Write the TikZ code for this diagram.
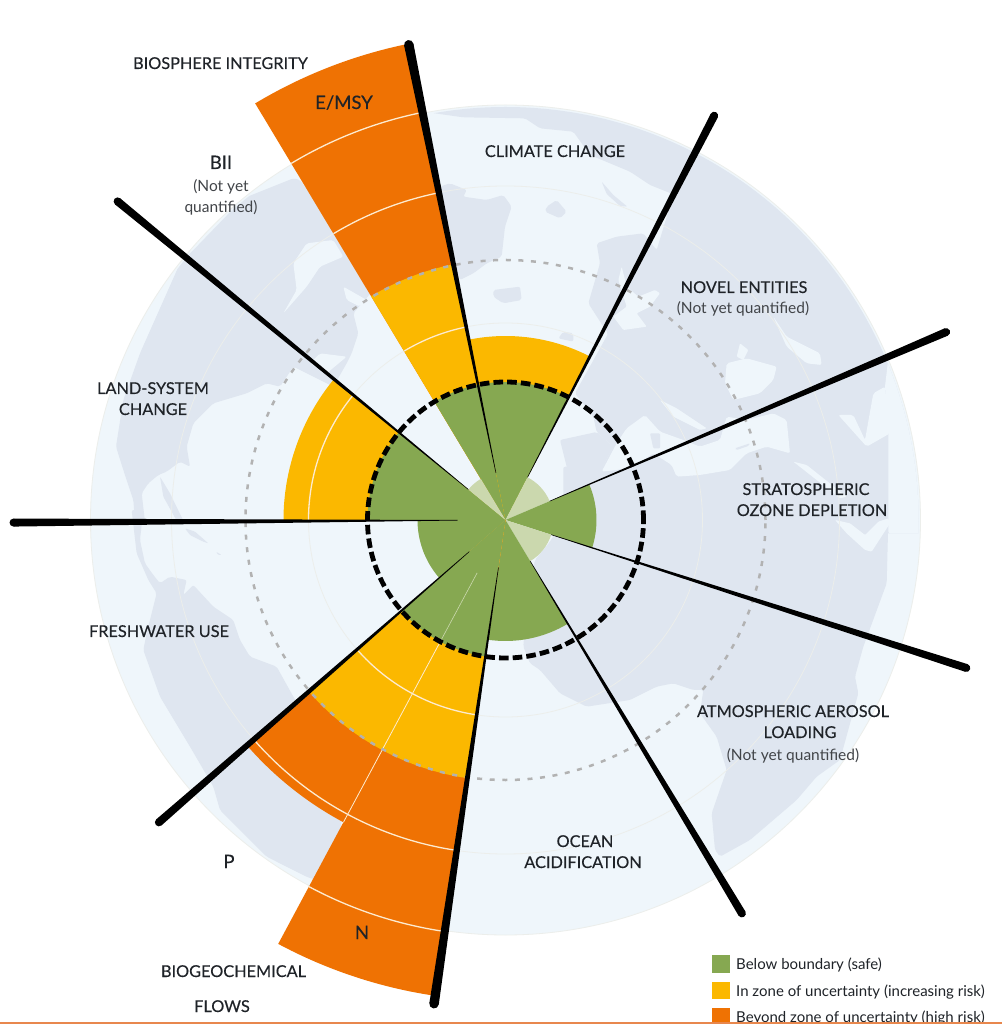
\documentclass[tikz,border=0pt]{standalone}
\usepackage{fontspec}
\setmainfont{Lato}
\newfontfamily\labfont[FakeBold=0.3]{Lato}
\definecolor{ocean}{HTML}{EFF6FB}
\definecolor{landc}{HTML}{DFE6F0}
\definecolor{orng}{HTML}{EF7203}
\definecolor{yell}{HTML}{FBB800}
\definecolor{grn}{HTML}{86A851}
\definecolor{pale}{HTML}{CBD8AE}
\definecolor{inkc}{HTML}{1F2328}
\definecolor{gridc}{HTML}{ECEEEB}
\definecolor{arcc}{HTML}{FDEBD0}
\definecolor{stripc}{HTML}{E8874D}
\newcommand{\wedgeat}[4]{\fill[#1] (0,0) -- (#2:#4) arc[start angle=#2,end angle=#3,radius=#4] -- cycle;}
\newcommand{\whitearc}[3]{\draw[arcstyle] (#1:#3) arc[start angle=#1,end angle=#2,radius=#3];}
\newcommand{\rayat}[3]{\fill[black,rotate=#1,rounded corners=0pt] (48,-.25) -- (#2,-#3/2) -- (#2,#3/2) -- (48,.25) -- cycle; \fill[black,rotate=#1] (#2,0) circle[radius=#3/2];}
\newcommand{\lab}[5]{\node[#1] (#2) at (#3,#4) {#5};}
\tikzset{
  arcstyle/.style={draw=arcc,line width=1.3pt},
  px/.style={x=1pt,y=-1pt,shift={(-505.5pt,520pt)}},
  zf/.style 2 args={x=0.33333pt,y=-0.33333pt,shift={(#1pt,#2pt)}},
  landfill/.style={fill=landc,rounded corners=2pt},
  seafill/.style={fill=ocean,rounded corners=2pt},
  capt/.style={anchor=base,inner sep=0pt,text=inkc,font=\labfont\fontsize{16.3}{18}\selectfont},
  bigt/.style={anchor=base,inner sep=0pt,text=inkc,font=\labfont\fontsize{18.5}{20}\selectfont},
  smallt/.style={anchor=base,inner sep=0pt,text=inkc!85,font=\fontsize{15.5}{16}\selectfont},
  legt/.style={anchor=base west,inner sep=0pt,text=inkc,font=\fontsize{15}{16}\selectfont},
}
\begin{document}
\begin{tikzpicture}[x=1pt,y=1pt]
\useasboundingbox (-505.5,-504) rectangle (496.5,520);
\fill[white] (-505.5,-504) rectangle (496.5,520);
% globe
\fill[ocean] (0,0) circle[radius=415];
\draw[gridc,line width=.8pt] (0,0) circle[radius=415];
\begin{scope}
\clip (0,0) circle[radius=413];
% Arctic Russia
\begin{scope}[zf={-75.5}{420}]
\fill[landfill] (0,38) -- (0,-50) -- (800,-50) -- (800,290) -- (735,285) -- (660,255) -- (600,215) -- (480,165) -- (430,95) -- (330,85) -- (285,55) -- (100,52) -- cycle;
% Greenland, Iceland, Svalbard, Novaya Zemlya, Britain
\fill[landfill] (30,260) -- (60,250) -- (110,270) -- (100,290) -- (170,300) -- (220,285) -- (245,320) -- (225,380) -- (215,470) -- (170,490) -- (130,520) -- (90,540) -- (50,440) -- cycle;
\fill[landfill] (190,570) -- (270,560) -- (275,600) -- (220,610) -- (190,590) -- cycle;
\fill[landfill] (350,320) -- (380,300) -- (410,335) -- (390,355) -- (345,335) -- cycle;
\fill[landfill,rounded corners=1pt] (515,245) -- (550,285) -- (592,320) -- (570,318) -- (530,282) -- cycle;
\fill[landfill] (385,715) -- (400,695) -- (430,700) -- (430,725) -- cycle;
\end{scope}
% Eurasia
\begin{scope}[zf={54.5}{420}]
\fill[landfill] (340,285) -- (500,-100) -- (1400,-100) -- (1400,1300) -- (110,1300) -- (100,1170) -- (120,1115) -- (160,1040) -- (110,996) -- (100,950) -- (45,880) -- (145,700) -- (130,680) -- (85,610) -- (120,490) -- (110,430) -- (170,410) -- (250,400) -- (290,450) -- cycle;
\fill[landfill] (160,1040) -- (110,996) -- (0,1020) -- (20,1100) -- (30,1140) -- (90,1150) -- (120,1115) -- cycle;
\end{scope}
% Africa
\begin{scope}[zf={24.5}{20}]
\fill[landfill] (1100,-100) -- (1075,60) -- (1070,250) -- (1000,440) -- (975,530) -- (985,580) -- (930,780) -- (860,830) -- (800,900) -- (660,1020) -- (570,1070) -- (555,1050) -- (545,940) -- (590,810) -- (560,710) -- (510,640) -- (520,570) -- (490,570) -- (430,550) -- (380,560) -- (300,600) -- (170,620) -- (90,580) -- (30,510) -- (0,490) -- (-20,440) -- (-10,300) -- (15,180) -- (60,125) -- (100,60) -- (100,-100) -- cycle;
\end{scope}
% North America
\begin{scope}[zf={-425.5}{420}]
\fill[landfill] (640,235) -- (490,295) -- (350,440) -- (300,490) -- (180,760) -- (130,900) -- (108,1040) -- (130,1110) -- (160,1200) -- (165,1265) -- (195,1265) -- (185,1180) -- (205,1150) -- (235,1125) -- (260,1115) -- (300,1085) -- (330,1100) -- (320,1040) -- (340,970) -- (400,910) -- (500,880) -- (560,850) -- (600,860) -- (640,800) -- (700,830) -- (760,860) -- (800,790) -- (815,760) -- (835,700) -- (820,640) -- (845,610) -- (890,560) -- (660,240) -- cycle;
\fill[landfill,rounded corners=1pt] (240,1130) -- (270,1180) -- (310,1262) -- (290,1262) -- (250,1190) -- cycle;
\fill[seafill] (640,490) -- (680,430) -- (760,420) -- (790,470) -- (720,500) -- (680,560) -- (610,640) -- (650,570) -- cycle;
\fill[seafill] (690,790) -- (720,760) -- (800,770) -- (740,820) -- cycle;
\fill[seafill] (790,560) -- (860,600) -- (840,620) -- (800,600) -- cycle;
\end{scope}
% Central and South America
\begin{scope}[zf={-425.5}{0}]
\fill[landfill] (190,-30) -- (180,60) -- (195,130) -- (220,165) -- (240,190) -- (270,170) -- (320,180) -- (310,225) -- (340,195) -- (400,260) -- (460,300) -- (480,360) -- (510,410) -- (590,440) -- (640,530) -- (800,800) -- (770,1000) -- (770,1100) -- (681,1071) -- (560,1010) -- (420,870) -- (400,800) -- (330,680) -- (240,530) -- (190,390) -- (200,340) -- (230,220) -- (205,180) -- (170,100) -- (155,-30) -- cycle;
\fill[landfill,rounded corners=1pt] (315,25) -- (345,35) -- (385,70) -- (370,65) -- (330,45) -- cycle;
\fill[landfill,rounded corners=1pt] (408,95) -- (425,105) -- (415,105) -- cycle;
\end{scope}
% inland seas and east rim
\begin{scope}[zf={54.5}{420}]
\fill[seafill] (985,775) -- (975,860) -- (985,1000) -- (985,1300) -- (1400,1300) -- (1400,700) -- cycle;
\fill[seafill] (125,1115) -- (170,1030) -- (200,985) -- (255,945) -- (300,995) -- (370,1020) -- (420,1040) -- (480,1020) -- (500,950) -- (560,960) -- (640,940) -- (680,960) -- (690,1060) -- (620,1040) -- (560,1060) -- (510,1110) -- (420,1125) -- (350,1130) -- (335,1095) -- (280,1060) -- (220,1100) -- (170,1110) -- cycle;
\fill[landfill,rounded corners=1pt] (270,1000) -- (300,1000) -- (300,1045) -- (280,1045) -- cycle;
\fill[landfill,rounded corners=1pt] (525,1045) -- (570,1030) -- (565,1038) -- (530,1050) -- cycle;
\fill[seafill,rounded corners=1pt] (300,900) -- (350,925) -- (440,985) -- (420,990) -- (340,950) -- cycle;
\fill[seafill] (500,790) -- (560,775) -- (650,800) -- (640,840) -- (600,880) -- (520,900) -- (495,850) -- cycle;
\fill[seafill,rounded corners=1pt] (540,730) -- (565,750) -- (550,780) -- (530,770) -- cycle;
\fill[seafill] (640,650) -- (680,710) -- (780,760) -- (785,795) -- (740,790) -- (680,740) -- cycle;
\fill[seafill] (835,945) -- (880,945) -- (915,1020) -- (940,880) -- (975,860) -- (985,960) -- (990,1000) -- (920,1040) -- cycle;
\fill[seafill,rounded corners=1pt] (185,500) -- (200,560) -- (235,590) -- (285,570) -- (300,580) -- (270,620) -- (230,640) -- (260,680) -- (190,690) -- (160,650) -- (200,620) -- (175,540) -- cycle;
\fill[seafill,rounded corners=1pt] (700,1085) -- (740,1095) -- (860,1190) -- (840,1195) -- cycle;
\end{scope}
\begin{scope}[zf={24.5}{20}]
\fill[seafill,rounded corners=1pt] (915,60) -- (960,70) -- (1005,105) -- (1045,65) -- (1075,55) -- (1080,70) -- (1025,155) -- (1005,150) -- (950,100) -- cycle;
\end{scope}
\end{scope}
% faint grid rings
\draw[gridc,line width=.8pt] (0,0) circle[radius=197];
\draw[gridc,line width=.8pt] (0,0) circle[radius=334];
% boundaries: orange, yellow, green
\wedgeat{orng}{101.5}{121}{486}
\wedgeat{yell}{101.5}{121}{261}
\wedgeat{grn}{101.5}{121}{138}
\wedgeat{yell}{62.7}{101.5}{184}
\wedgeat{grn}{62.7}{101.5}{138}
\wedgeat{pale}{23.1}{62.7}{48}
\wedgeat{grn}{-17.8}{23.1}{91}
\wedgeat{pale}{-59}{-17.8}{48}
\wedgeat{grn}{-98.4}{-59}{121}
\wedgeat{orng}{241.8}{261.6}{481}
\wedgeat{orng}{221.1}{241.8}{343}
\wedgeat{yell}{221.1}{261.6}{261}
\wedgeat{grn}{221.1}{261.6}{138}
\wedgeat{grn}{180}{221.1}{88}
\wedgeat{yell}{140.6}{180}{222}
\wedgeat{grn}{140.6}{180}{138}
\wedgeat{pale}{121}{140.6}{48}
% arcs inside wedges
\whitearc{101.5}{121}{197}
\whitearc{101.5}{121}{334}
\whitearc{101.5}{121}{416}
\whitearc{140.6}{180}{197}
\whitearc{221.1}{261.6}{197}
\whitearc{221.1}{261.6}{334}
\whitearc{241.8}{261.6}{416}
\draw[draw=pale,line width=.6pt] (241.8:60) -- (241.8:138);
\draw[draw=arcc,line width=.8pt] (241.8:138) -- (241.8:343);
% dashed rings
\draw[black!30,line width=2.5pt,dash pattern=on 5pt off 7.6pt] (0,0) circle[radius=260];
\draw[black,line width=4.8pt,dash pattern=on 9.6pt off 4.1pt] (0,0) circle[radius=138];
% rays
\rayat{101.5}{485}{9.5}
\rayat{62.7}{455}{8}
\rayat{23.1}{479}{8}
\rayat{-17.8}{484}{8}
\rayat{-59}{459}{8}
\rayat{261.6}{489}{9.5}
\rayat{221.1}{460}{8}
\rayat{180.3}{492}{8}
\rayat{140.6}{502}{8}
% labels and legend, in picture pixels
\begin{scope}[px]
\lab{capt}{bio}{220.5}{69}{BIOSPHERE INTEGRITY}
\lab{bigt}{emsy}{344}{109}{E/MSY}
\lab{bigt}{bii}{221}{169}{BII}
\lab{smallt}{biiA}{221}{192}{(Not yet}
\lab{smallt}{biiB}{221}{213}{quantified)}
\lab{capt}{clim}{555}{157}{CLIMATE CHANGE}
\lab{capt}{nov}{744}{293}{NOVEL ENTITIES}
\lab{smallt}{novA}{743}{314}{(Not yet quantified)}
\lab{capt}{strA}{806}{495}{STRATOSPHERIC}
\lab{capt}{strB}{812}{516}{OZONE DEPLETION}
\lab{capt}{aerA}{793}{717}{ATMOSPHERIC AEROSOL}
\lab{capt}{aerB}{800}{738}{LOADING}
\lab{smallt}{aerC}{793}{760}{(Not yet quantified)}
\lab{capt}{ocA}{585}{847}{OCEAN}
\lab{capt}{ocB}{583}{868}{ACIDIFICATION}
\lab{capt}{fresh}{159}{637}{FRESHWATER USE}
\lab{capt}{lanA}{153}{394}{LAND-SYSTEM}
\lab{capt}{lanB}{153}{415}{CHANGE}
\lab{bigt}{pp}{229}{868}{P}
\lab{bigt}{nn}{362}{939}{N}
\lab{capt}{geoA}{233.5}{977}{BIOGEOCHEMICAL}
\lab{capt}{geoB}{222}{1012}{FLOWS}
\fill[grn] (712,955) rectangle (730,973);
\fill[yell] (712,982) rectangle (730,999);
\fill[orng] (712,1008) rectangle (730,1024);
\lab{legt}{legA}{736}{969}{Below boundary (safe)}
\lab{legt}{legB}{736}{996}{In zone of uncertainty (increasing risk)}
\lab{legt}{legC}{736}{1022.5}{Beyond zone of uncertainty (high risk)}
\fill[stripc] (0,1022) rectangle (1002,1024);
\end{scope}
\end{tikzpicture}
\end{document}
